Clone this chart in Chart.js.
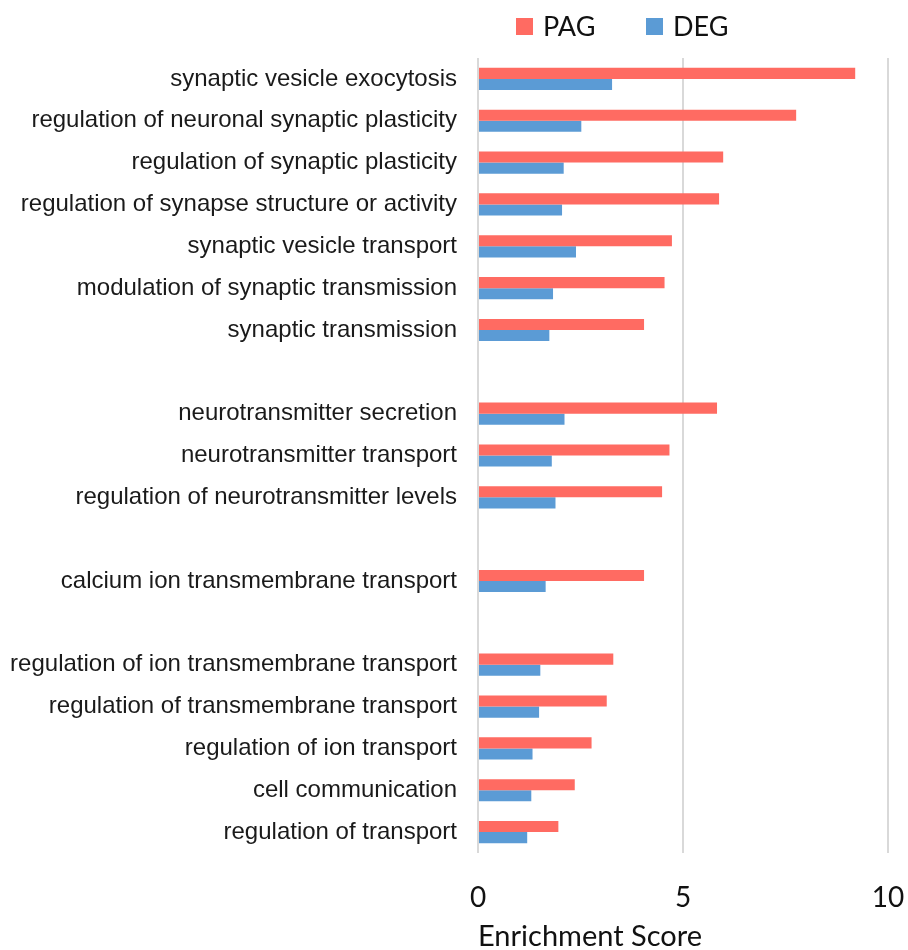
<!DOCTYPE html>
<html>
<head>
<meta charset="utf-8">
<script src="https://cdn.jsdelivr.net/npm/chart.js@4/dist/chart.umd.min.js"></script>
<style>
  html, body { margin: 0; padding: 0; background: #fff; }
  #wrap { width: 908px; height: 950px; position: relative; }
</style>
</head>
<body>
<div id="wrap"><canvas id="enrichment"></canvas></div>
<script>
// GO terms, top to bottom (empty strings leave a gap between groups)
var terms = [
    "synaptic vesicle exocytosis",
    "regulation of neuronal synaptic plasticity",
    "regulation of synaptic plasticity",
    "regulation of synapse structure or activity",
    "synaptic vesicle transport",
    "modulation of synaptic transmission",
    "synaptic transmission",
    "",
    "neurotransmitter secretion",
    "neurotransmitter transport",
    "regulation of neurotransmitter levels",
    "",
    "calcium ion transmembrane transport",
    "",
    "regulation of ion transmembrane transport",
    "regulation of transmembrane transport",
    "regulation of ion transport",
    "cell communication",
    "regulation of transport"
];

// enrichment scores
var pagScores = [9.20, 7.76, 5.98, 5.88, 4.73, 4.55, 4.05, null, 5.83, 4.67, 4.49, null, 4.05, null, 3.30, 3.14, 2.77, 2.36, 1.96];
var degScores = [3.27, 2.52, 2.09, 2.05, 2.39, 1.83, 1.74, null, 2.11, 1.80, 1.89, null, 1.65, null, 1.52, 1.49, 1.33, 1.30, 1.20];

var xTicks = [0, 5, 10];

var pagColor = "#FF6B62";
var degColor = "#5B9BD5";
var gridColor = "#D9D9D9";
var labelFont = "'Liberation Sans', Arial, sans-serif";
var axisFont = "Lato, 'Open Sans', sans-serif";

// legend drawn by hand above the plot
var topLegend = {
    id: "topLegend",
    afterDraw: function(chart) {
        var ctx = chart.ctx;
        var items = [
            { text: "PAG", color: pagColor, x: 516 },
            { text: "DEG", color: degColor, x: 646 }
        ];
        ctx.save();
        ctx.font = "27px " + axisFont;
        ctx.textBaseline = "middle";
        ctx.textAlign = "left";
        items.forEach(function(it) {
            ctx.fillStyle = it.color;
            ctx.fillRect(it.x, 18, 17, 17);
            ctx.fillStyle = "#111";
            ctx.fillText(it.text, it.x + 27, 27);
        });
        ctx.restore();
    }
};

var chart = new Chart(document.getElementById("enrichment"), {
    type: "bar",
    data: {
        labels: terms,
        datasets: [{
            label: "PAG",
            data: pagScores,
            backgroundColor: pagColor,
            categoryPercentage: 0.53,
            barPercentage: 1.0
        }, {
            label: "DEG",
            data: degScores,
            backgroundColor: degColor,
            categoryPercentage: 0.53,
            barPercentage: 1.0
        }]
    },
    options: {
        indexAxis: "y",
        responsive: true,
        maintainAspectRatio: false,
        animation: false,
        layout: { padding: { top: 58, right: 0, left: 0, bottom: 0 } },
        plugins: {
            legend: { display: false },
            tooltip: { enabled: false }
        },
        scales: {
            x: {
                min: 0,
                max: 10,
                afterBuildTicks: function(scale) {
                    scale.ticks = xTicks.map(function(v) { return { value: v }; });
                },
                grid: { color: gridColor, lineWidth: 2, drawTicks: false },
                border: { display: false },
                ticks: {
                    color: "#111",
                    font: { family: axisFont, size: 28 },
                    padding: 28
                },
                title: {
                    display: true,
                    text: "Enrichment Score",
                    align: "start",
                    color: "#111",
                    font: { family: axisFont, size: 29, lineHeight: 0.9 },
                    padding: { top: 6, bottom: 0 }
                },
                afterFit: function(scale) {
                    scale.height = 97;
                    scale.paddingLeft = 0;
                    scale.paddingRight = 20;
                }
            },
            y: {
                grid: { display: false, drawTicks: false },
                border: { display: false },
                ticks: {
                    color: "#1a1a1a",
                    autoSkip: false,
                    font: { family: labelFont, size: 24 },
                    padding: 21
                },
                afterFit: function(scale) { scale.width = 478; }
            }
        }
    },
    plugins: [topLegend]
});
</script>
</body>
</html>
